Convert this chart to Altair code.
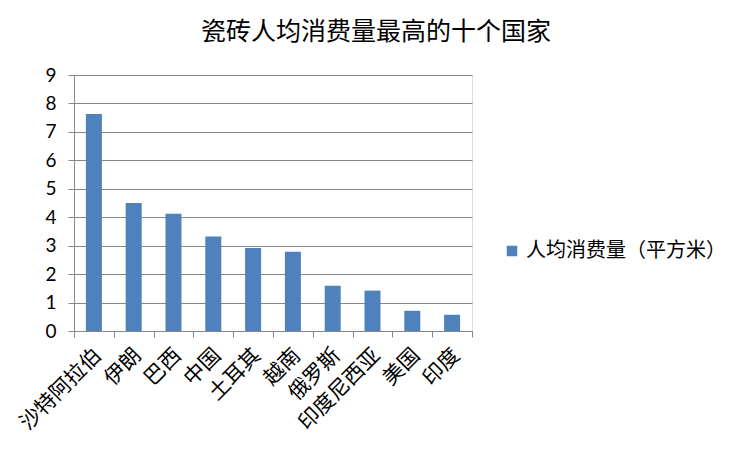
import altair as alt
import pandas as pd

countries = ["沙特阿拉伯", "伊朗", "巴西", "中国", "土耳其", "越南", "俄罗斯", "印度尼西亚", "美国", "印度"]
values = [7.63, 4.5, 4.12, 3.32, 2.92, 2.79, 1.59, 1.42, 0.71, 0.57]
series_name = "人均消费量（平方米）"
title_text = "瓷砖人均消费量最高的十个国家"

df = pd.DataFrame({"country": countries, "value": values, "series": [series_name] * len(countries)})

CJK = "Noto Sans CJK SC"
GRID = "#868686"

bars = alt.Chart(df).mark_bar(size=16).encode(
    x=alt.X(
        "country:N",
        sort=countries,
        title=None,
        scale=alt.Scale(paddingInner=0, paddingOuter=0),
        axis=alt.Axis(
            labelAngle=-45,
            labelAlign="right",
            labelBaseline="middle",
            labelFont=CJK,
            labelFontSize=21,
            labelColor="#000000",
            labelPadding=15,
            labelOffset=4,
            labelLimit=300,
            tickBand="extent",
            tickSize=6,
            tickColor=GRID,
            domainColor=GRID,
            grid=False,
        ),
    ),
    y=alt.Y(
        "value:Q",
        title=None,
        scale=alt.Scale(domain=[0, 9], nice=False),
        axis=alt.Axis(
            values=list(range(0, 10)),
            labelFont="Lato",
            labelFontSize=19,
            labelColor="#000000",
            labelPadding=12,
            tickSize=6,
            tickColor=GRID,
            domainColor=GRID,
            gridColor=GRID,
            gridOpacity=1,
        ),
    ),
    color=alt.Color(
        "series:N",
        scale=alt.Scale(range=["#4F81BD"]),
        legend=alt.Legend(
            title=None,
            orient="none",
            legendX=428,
            legendY=166,
            symbolType="square",
            symbolSize=110,
            symbolStrokeWidth=0,
            labelFont=CJK,
            labelFontSize=20,
            labelColor="#000000",
            labelOffset=4,
            labelLimit=400,
        ),
    ),
)

chart = bars.properties(
    width=398,
    height=256,
    title=alt.TitleParams(
        text=title_text,
        font=CJK,
        fontSize=25,
        fontWeight="normal",
        color="#000000",
        anchor="middle",
        dx=103,
        offset=21,
    ),
    autosize=alt.AutoSizeParams(type="none"),
    padding={"left": 66, "top": 67, "right": 273, "bottom": 112},
).configure_view(stroke=None).configure(background="#ffffff")

chart.save("out.html", embed_options={"renderer": "svg", "actions": False})
